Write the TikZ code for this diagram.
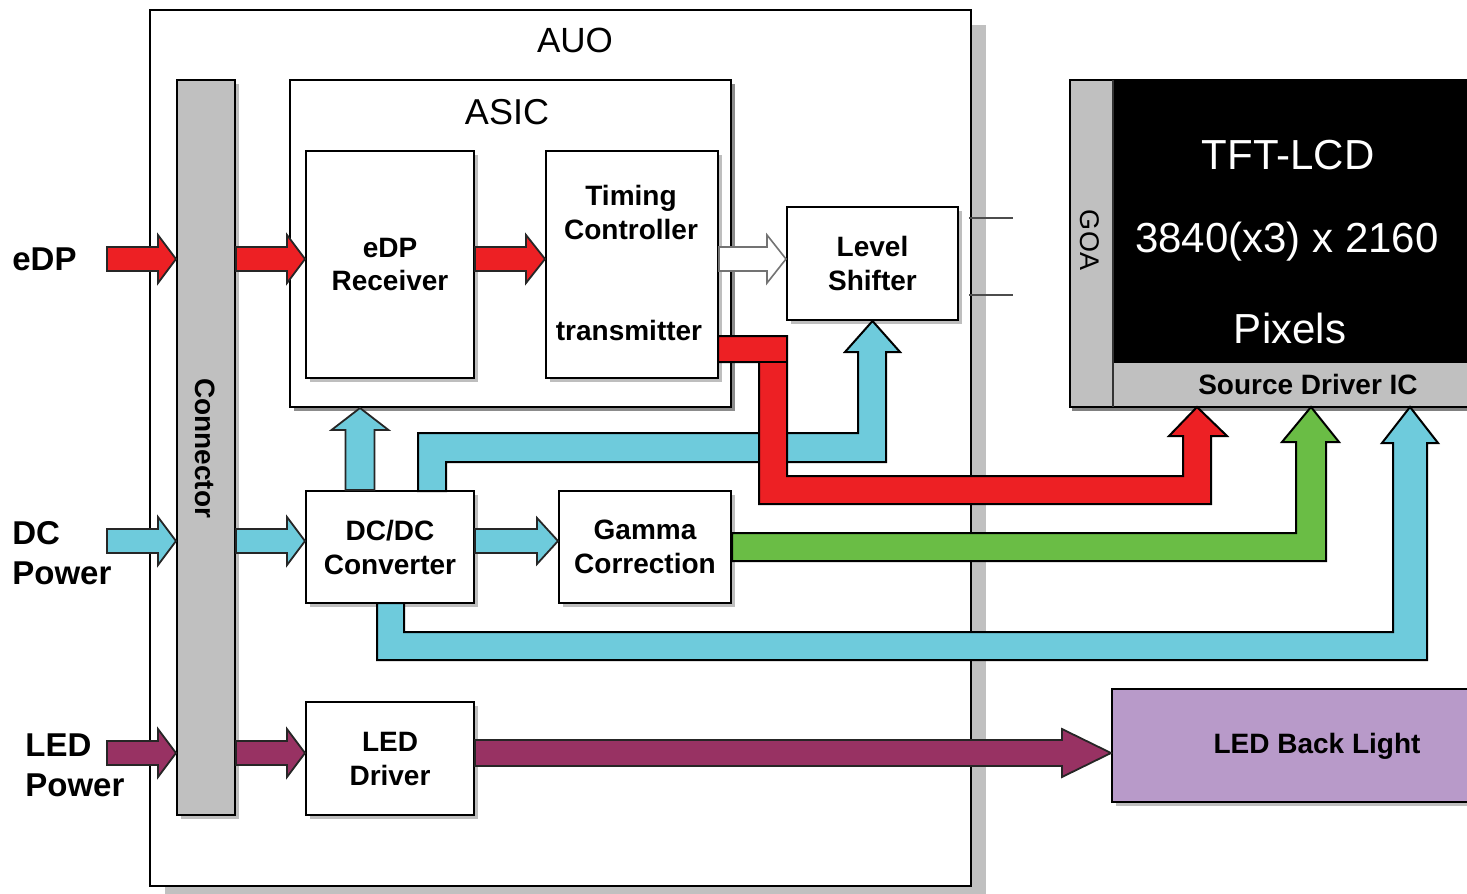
\documentclass[tikz,border=0pt]{standalone}
\usepackage{fontspec}
\setmainfont{Liberation Sans}
\usetikzlibrary{calc,shadows}
\definecolor{cred}{HTML}{ED2024}
\definecolor{ccyan}{HTML}{6ECBDC}
\definecolor{cgreen}{HTML}{6ABD45}
\definecolor{cplum}{HTML}{983263}
\definecolor{clilac}{HTML}{B89AC9}
\definecolor{cgray}{HTML}{C0C0C0}
\definecolor{cshadow}{HTML}{BEBEBE}
\newcommand\harrow[6]{% style, from, to, shaft half, head half, head length
  \filldraw[#1] let \p1=(#2), \p2=(#3) in
    (\x1,{\y2+#4}) -- ({\x2-#6},{\y2+#4}) -- ({\x2-#6},{\y2+#5}) -- (\x2,\y2)
    -- ({\x2-#6},{\y2-#5}) -- ({\x2-#6},{\y2-#4}) -- (\x1,{\y2-#4}) -- cycle;}
\newcommand\uarrow[6]{% style, from (bottom), to (tip), shaft half, head half, head length
  \filldraw[#1] let \p1=(#2), \p2=(#3) in
    ({\x2-#4},\y1) -- ({\x2-#4},{\y2-#6}) -- ({\x2-#5},{\y2-#6}) -- (\x2,\y2)
    -- ({\x2+#5},{\y2-#6}) -- ({\x2+#4},{\y2-#6}) -- ({\x2+#4},\y1) -- cycle;}
\tikzset{
  box/.style={draw=black, line width=1pt, fill=white, inner sep=0pt,
    drop shadow={shadow xshift=2pt, shadow yshift=-2pt, fill=cshadow, opacity=1}},
  lbl/.style={inner sep=0pt, align=center, font=\bfseries\fontsize{14}{17}\selectfont},
  side/.style={inner sep=0pt, align=left, anchor=west, font=\bfseries\fontsize{16.5}{20}\selectfont},
  title/.style={inner sep=0pt, font=\fontsize{17.5}{20}\selectfont},
  lcdtxt/.style={inner sep=0pt, text=white, font=\fontsize{21}{24}\selectfont},
  arr/.style={draw=black!85, line width=0.9pt, line join=miter},
  band/.style={draw=black, line width=1pt, line join=miter},
  redarr/.style={arr, fill=cred},
  cyanarr/.style={arr, fill=ccyan},
  plumarr/.style={arr, fill=cplum},
  redband/.style={band, fill=cred},
  cyanband/.style={band, fill=ccyan},
  greenband/.style={band, fill=cgreen},
  whitearr/.style={draw=black!55, line width=0.8pt, fill=white},
}
\begin{document}
\begin{tikzpicture}[x=0.5pt,y=-0.5pt]
\useasboundingbox (0,0) rectangle (1467,894);
\clip (0,0) rectangle (1467,894);
\fill[white] (0,0) rectangle (1467,894);

% AUO outer box with shadow
\fill[cgray] (971,25) rectangle (986,894);
\fill[cgray] (165,886) rectangle (986,894);
\node[draw=black, line width=1pt, inner sep=0pt, minimum width=410.5pt, minimum height=438pt] (auo) at (560.5,448) {};
\node[title] (auot) at (575,40) {AUO};

% Connector
\node[box, fill=cgray, minimum width=29pt, minimum height=367.5pt] (conn) at (206,447.5) {};
\node[lbl, rotate=-90] (connt) at (205,448) {Connector};

% ASIC
\node[draw=black, line width=1pt, fill=white, inner sep=0pt, minimum width=220.5pt, minimum height=163.5pt,
  drop shadow={shadow xshift=2pt, shadow yshift=-2pt, fill=black!45, opacity=1}] (asic) at (510.5,243.5) {};
\node[title, font=\fontsize{18}{20}\selectfont] (asict) at (507,112) {ASIC};
\node[box, minimum width=84pt, minimum height=113.5pt, lbl] (rx) at (390,264.5) {eDP\\Receiver};
\node[box, minimum width=86pt, minimum height=113.5pt] (tc) at (632,264.5) {};
\node[lbl] (tct) at (631,212) {Timing\\Controller};
\node[lbl] (tcx) at (629,330) {transmitter};

% Level shifter
\node[box, minimum width=85.5pt, minimum height=56.5pt, lbl] (ls) at (872.5,263.5) {Level\\Shifter};
\draw[black!70, line width=1.3pt] (969,218) -- (1013,218);
\draw[black!70, line width=1.3pt] (969,295) -- (1013,295);

% Panel
\fill[black!50] (1072,407) rectangle (1480,411);
\node[draw=black, line width=1pt, fill=cgray, inner sep=0pt, minimum width=205pt, minimum height=163.5pt] (panel) at (1275,243.5) {};
\node[fill=black, inner sep=0pt, minimum width=183.5pt, minimum height=141pt] (lcd) at (1296.5,221) {};
\draw[black, line width=1pt] (1113,362) -- (1480,362);
\draw[black!80, line width=1.2pt] (1113,80) -- (1113,407);
\node[inner sep=0pt, rotate=-90, font=\fontsize{13.5}{15}\selectfont] (goa) at (1090,240) {GOA};
\node[lcdtxt] (l1) at (1288,155) {TFT-LCD};
\node[lcdtxt] (l2) at (1287,242) {3840(x3) x 2160};
\node[lcdtxt] (l3) at (1290,328) {Pixels};
\node[lbl] (src) at (1308,384) {Source Driver IC};

% Power boxes
\node[box, minimum width=84pt, minimum height=56pt, lbl] (dc) at (390,547) {DC/DC\\Converter};
\node[box, minimum width=86pt, minimum height=56pt, lbl] (gm) at (645,547) {Gamma\\Correction};
\node[box, minimum width=84pt, minimum height=56.5pt, lbl] (led) at (390,758.5) {LED\\Driver};
\node[box, fill=clilac, minimum width=184pt, minimum height=56.5pt] (bl) at (1296,745.5) {};
\node[lbl] (blt) at (1317,746) {LED Back Light};

% Side labels
\node[side] (edpl) at (12,259) {eDP};
\node[side] (dcl) at (12,553) {DC\\Power};
\node[side] (ledl) at (25,765) {LED\\Power};

\coordinate (edpin) at (107,259);
\coordinate (dcin) at (107,541);
\coordinate (ledin) at (107,753);

% eDP arrows
\harrow{redarr}{edpin}{conn.west |- edpin}{6pt}{12pt}{9pt}
\harrow{redarr}{conn.east |- edpin}{rx.west |- edpin}{6pt}{12pt}{9pt}
\harrow{redarr}{rx.east |- edpin}{tc.west |- edpin}{6pt}{12pt}{9.5pt}
\harrow{whitearr}{tc.east |- edpin}{ls.west |- edpin}{6pt}{12pt}{9.5pt}

% DC arrows
\harrow{cyanarr}{dcin}{conn.west |- dcin}{6pt}{12pt}{9pt}
\harrow{cyanarr}{conn.east |- dcin}{dc.west |- dcin}{6pt}{12pt}{9pt}
\harrow{cyanarr}{dc.east |- dcin}{gm.west |- dcin}{6pt}{11.5pt}{10.5pt}
\coordinate (dcup) at ($(dc.north west)+(55,0)$);
\uarrow{cyanarr}{dcup}{asic.south -| dcup}{7.25pt}{14.25pt}{11pt}

% LED arrows
\harrow{plumarr}{ledin}{conn.west |- ledin}{6pt}{12pt}{9pt}
\harrow{plumarr}{conn.east |- ledin}{led.west |- ledin}{6pt}{12pt}{9pt}
\harrow{plumarr}{led.east |- ledin}{bl.west |- ledin}{6.5pt}{12pt}{24.5pt}

% cyan band to level shifter
\filldraw[cyanband] (418,491) -- (418,433) -- (858,433) -- (858,352) -- (845,352) -- (ls.south)
  -- (900,352) -- (886,352) -- (886,462) -- (446,462) -- (446,491) -- cycle;
% red band to source driver
\filldraw[redband] (718,336) -- (787,336) -- (787,476) -- (1183,476) -- (1183,436) -- (1169,436)
  -- (1197,407) -- (1227,436) -- (1211,436) -- (1211,504) -- (759,504) -- (759,362) -- (718,362) -- cycle;
\draw[black, line width=1pt] (759,362) -- (787,362);
% green band
\filldraw[greenband] (gm.east |- 0,533) -- (1296,533) -- (1296,442) -- (1282,442) -- (1311,407)
  -- (1339,442) -- (1326,442) -- (1326,561) -- (gm.east |- 0,561) -- cycle;
% cyan bottom band
\filldraw[cyanband] (377,603) -- (377,660) -- (1427,660) -- (1427,443) -- (1438,443) -- (1410,407)
  -- (1382,443) -- (1393,443) -- (1393,632) -- (404,632) -- (404,603) -- cycle;
\end{tikzpicture}
\end{document}
